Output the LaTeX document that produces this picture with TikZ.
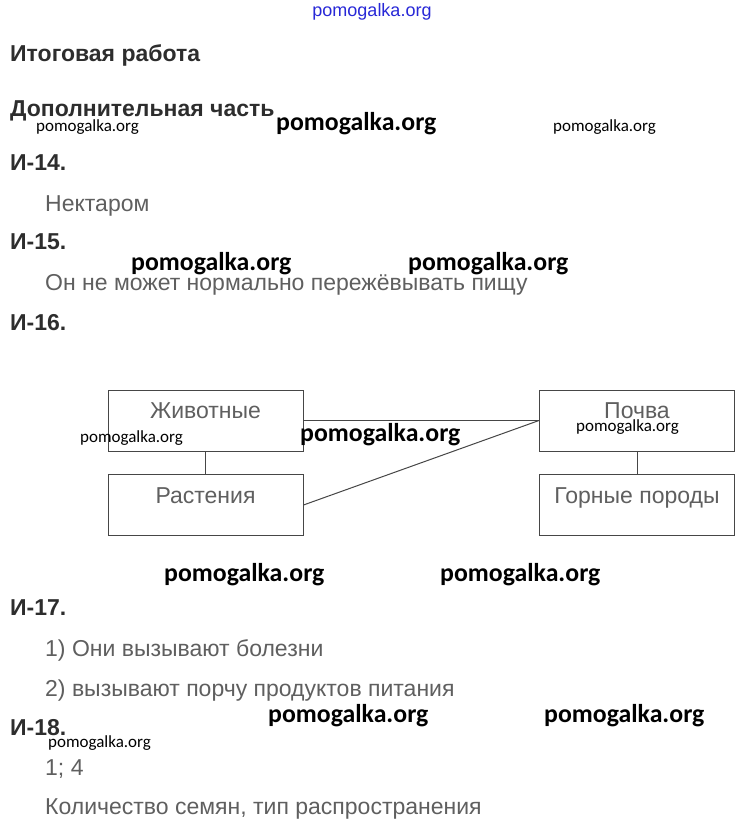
\documentclass[tikz,border=0pt]{standalone}
\usepackage{fontspec}
\setmainfont{Liberation Sans}
\newfontfamily\markfont{Carlito}
\usetikzlibrary{positioning}
\definecolor{headColor}{RGB}{45,45,45}
\definecolor{bodyColor}{RGB}{95,95,95}
\definecolor{lineColor}{RGB}{70,70,70}
\definecolor{markBlue}{RGB}{40,40,215}
\tikzstyle{page} = [x = 1pt, y = -1pt]
\tikzstyle{headText} = [anchor=base west, inner sep=0pt, text=headColor, font=\fontsize{23}{26}\selectfont\bfseries]
\tikzstyle{bodyText} = [anchor=base west, inner sep=0pt, text=bodyColor, font=\fontsize{23}{26}\selectfont]
\tikzstyle{topicBox} = [draw=lineColor, line width=1pt, minimum width=195pt, minimum height=61pt, inner sep=0pt, text height=16pt, text depth=20pt, text=bodyColor, font=\fontsize{23}{26}\selectfont]
\tikzstyle{linkLine} = [draw=lineColor, line width=1pt]
\tikzstyle{bigMark} = [anchor=west, inner sep=0pt, font=\markfont\fontsize{25.8}{28}\selectfont\bfseries]
\tikzstyle{smallMark} = [anchor=west, inner sep=0pt, font=\markfont\fontsize{17}{20}\selectfont]
\newcommand{\bigWatermark}[3]{\node [bigMark] (#1) at (#2,#3) {pomogalka.org};}
\newcommand{\smallWatermark}[3]{\node [smallMark] (#1) at (#2,#3) {pomogalka.org};}

\begin{document}
\begin{tikzpicture}[page]
  \useasboundingbox [fill=white] (0,0) rectangle (743,830);
  % answers
  \node [headText] (title) at (10,61) {Итоговая работа};
  \node [headText] (extra) at (10,116) {Дополнительная часть};
  \node [headText] (q14) at (10,170) {И-14.};
  \node [bodyText] (a14) at (45,211) {Нектаром};
  \node [headText] (q15) at (10,249) {И-15.};
  \node [bodyText] (a15) at (45,290) {Он не может нормально пережёвывать пищу};
  \node [headText] (q16) at (10,330) {И-16.};
  \node [headText] (q17) at (10,615) {И-17.};
  \node [bodyText] (a17a) at (45,656) {1) Они вызывают болезни};
  \node [bodyText] (a17b) at (45,696) {2) вызывают порчу продуктов питания};
  \node [headText] (q18) at (10,735) {И-18.};
  \node [bodyText] (a18a) at (45,775) {1; 4};
  \node [bodyText] (a18b) at (45,814) {Количество семян, тип распространения};
  % scheme
  \node [topicBox] (animals) at (205.5,420.5) {Животные};
  \node [topicBox] (plants) at (205.5,505) {Растения};
  \node [topicBox] (soil) at (637,420.5) {Почва};
  \node [topicBox] (rocks) at (637,505) {Горные породы};
  \draw [linkLine] (animals) -- (plants);
  \draw [linkLine] (soil) -- (rocks);
  \draw [linkLine] (animals.east) -- (soil.west);
  \draw [linkLine] (plants.east) -- (soil.west);
  % watermarks
  \node [anchor=center, inner sep=0pt, text=markBlue, font=\fontsize{18}{20}\selectfont] (topMark) at (372,12) {pomogalka.org};
  \smallWatermark{markA}{36}{127}\bigWatermark{markB}{276}{124}\smallWatermark{markC}{553}{127}
  \bigWatermark{markD}{131}{264}\bigWatermark{markE}{408}{264}
  \smallWatermark{markF}{80}{438}\bigWatermark{markG}{300}{435}\smallWatermark{markH}{576}{427}
  \bigWatermark{markI}{164}{575}\bigWatermark{markJ}{440}{575}
  \bigWatermark{markK}{268}{716}\bigWatermark{markL}{544}{716}
  \smallWatermark{markM}{48}{743}
\end{tikzpicture}
\end{document}
